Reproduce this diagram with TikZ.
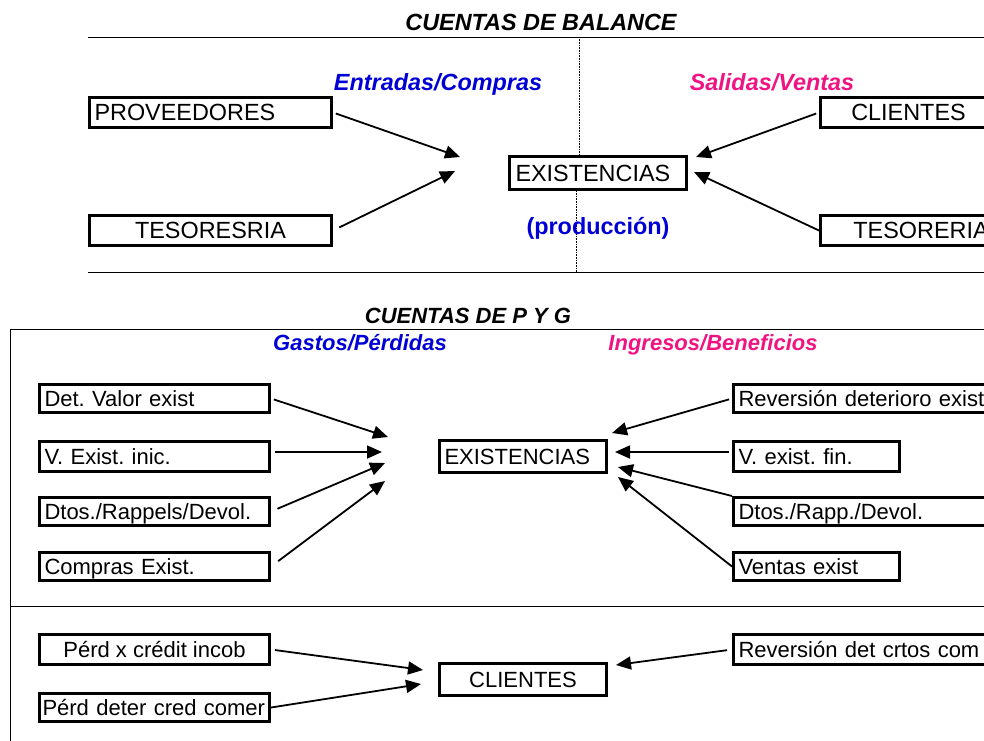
\documentclass[tikz,border=0pt]{standalone}
\usepackage{fontspec}
\setmainfont{Liberation Sans}
\usepackage{xcolor}
\usetikzlibrary{arrows.meta, positioning}
\definecolor{azul}{RGB}{0,0,214}
\definecolor{rosa}{RGB}{240,20,130}
\frenchspacing
\newcommand{\letraA}{\fontsize{23.4}{28}\selectfont}
\newcommand{\letraB}{\fontsize{22}{26}\selectfont}
\tikzstyle{flecha} = [line width=1.8pt,-{Triangle[length=15pt,width=13pt]}]
\tikzstyle{cuenta} = [draw, line width=3pt, anchor=north west, inner sep=0pt, text depth=0pt]
\tikzstyle{izq} = [text width=#1, align=left, inner xsep=5pt]
\tikzstyle{arriba} = [font=\letraA, text height=16.8pt]
\tikzstyle{abajo} = [font=\letraB, text height=15.8pt]
\tikzstyle{tituloA} = [anchor=base, font=\letraA\bfseries\itshape]
\tikzstyle{tituloB} = [anchor=base, font=\letraB\bfseries\itshape]

\begin{document}
\begin{tikzpicture}[x=1pt,y=-1pt]
        \useasboundingbox (0,0) rectangle (984,740);
        \clip (0,0) rectangle (984,740);
        \fill[white] (0,0) rectangle (984,740);
        % cuentas de balance
        \draw[line width=0.8pt] (88,37) -- (1000,37);
        \draw[line width=0.8pt] (88,272) -- (1000,272);
        \draw[densely dotted, line width=0.6pt] (579,37) -- (579,155);
        \draw[densely dotted, line width=0.6pt] (576,188) -- (576,272);
        \node[tituloA] (tbal) at (541,30) {CUENTAS DE BALANCE};
        \node[tituloA, azul] (entr) at (438,90) {Entradas/Compras};
        \node[tituloA, azul, font=\letraA\bfseries] (prod) at (598,234) {(producción)};
        \node[tituloA, rosa] (sal) at (772,90) {Salidas/Ventas};
        \begin{scope}[every node/.append style=arriba]
        \node[cuenta, izq=232pt, minimum height=30pt] (prov) at (88,96) {PROVEEDORES};
        \node[cuenta, minimum width=242pt, minimum height=30pt] (tesIz) at (88,214) {TESORESRIA};
        \node[cuenta, izq=165pt, inner xsep=6pt, minimum height=33pt] (exist) at (508,155) {EXISTENCIAS};
        \node[cuenta, minimum width=176pt, minimum height=30pt] (cli) at (819,96) {CLIENTES};
        \node[cuenta, minimum width=201pt, minimum height=30pt] (tesDe) at (819,214) {TESORERIA};
        \end{scope}
        \coordinate (t1) at (460,157);
        \coordinate (t2) at (455,171);
        \coordinate (t3) at (696,157);
        \coordinate (t4) at (694,172);
        \draw[flecha, shorten <=3pt] (prov.east) -- (t1);
        \draw[flecha, shorten <=7pt] (tesIz.east) -- (t2);
        \draw[flecha, shorten <=3pt] (cli.west) -- (t3);
        \draw[flecha] (tesDe.west) -- (t4);
        % cuentas de p y g
        \draw[line width=0.8pt] (10,329) rectangle (1000,760);
        \draw[line width=0.8pt] (10,606) -- (1000,606);
        \node[tituloB] (tpyg) at (468,323) {CUENTAS DE P Y G};
        \node[tituloB, azul] (gast) at (360,350) {Gastos/Pérdidas};
        \node[tituloB, rosa] (ingr) at (713,350) {Ingresos/Beneficios};
        \begin{scope}[every node/.append style=abajo]
        \node[cuenta, izq=220pt, minimum height=28pt] (det) at (38,383) {Det. Valor exist};
        \node[cuenta, izq=220pt, minimum height=30pt] (vini) at (38,440) {V. Exist. inic.};
        \node[cuenta, izq=220pt, minimum height=28pt] (dtosG) at (38,496) {Dtos./Rappels/Devol.};
        \node[cuenta, izq=220pt, minimum height=28pt] (compras) at (38,551) {Compras Exist.};
        \node[cuenta, minimum width=230pt, minimum height=30pt] (perd1) at (38,633) {Pérd x crédit incob};
        \node[cuenta, izq=224pt, inner xsep=3pt, minimum height=28pt] (perd2) at (38,692) {Pérd deter cred comer};
        \node[cuenta, izq=157pt, minimum height=32pt] (existB) at (438,439) {EXISTENCIAS};
        \node[cuenta, minimum width=167pt, minimum height=32pt] (cliB) at (438,662) {CLIENTES};
        \node[cuenta, izq=270pt, minimum height=28pt] (revDet) at (732,383) {Reversión deterioro exist};
        \node[cuenta, izq=156pt, minimum height=30pt] (vfin) at (732,440) {V. exist. fin.};
        \node[cuenta, izq=270pt, minimum height=28pt] (dtosI) at (732,496) {Dtos./Rapp./Devol.};
        \node[cuenta, izq=156pt, minimum height=28pt] (ventas) at (732,551) {Ventas exist};
        \node[cuenta, izq=270pt, minimum height=30pt] (revCr) at (732,633) {Reversión det crtos com};
        \end{scope}
        \coordinate (g1) at (388,437);
        \coordinate (g2) at (382,452);
        \coordinate (g3) at (385,463);
        \coordinate (g4) at (385,481);
        \coordinate (i1) at (612,433);
        \coordinate (i2) at (615,452);
        \coordinate (i3) at (618,467);
        \coordinate (i4) at (618,477);
        \coordinate (c1) at (423,670);
        \coordinate (c2) at (421,684);
        \coordinate (c3) at (616,665);
        \draw[flecha, shorten <=3pt] (det.east) -- (g1);
        \draw[flecha, shorten <=4pt] (vini.east |- g2) -- (g2);
        \draw[flecha, shorten <=7pt] (dtosG.east) -- (g3);
        \draw[flecha, shorten <=9pt] (compras.east) -- (g4);
        \draw[flecha, shorten <=3pt] (revDet.west) -- (i1);
        \draw[flecha, shorten <=3pt] (vfin.west |- i2) -- (i2);
        \draw[flecha] (dtosI.north west) -- (i3);
        \draw[flecha] (ventas.west) -- (i4);
        \draw[flecha, shorten <=4pt] (perd1.east) -- (c1);
        \draw[flecha] (perd2.east) -- (c2);
        \draw[flecha, shorten <=5pt] (revCr.west) -- (c3);
\end{tikzpicture}
\end{document}
